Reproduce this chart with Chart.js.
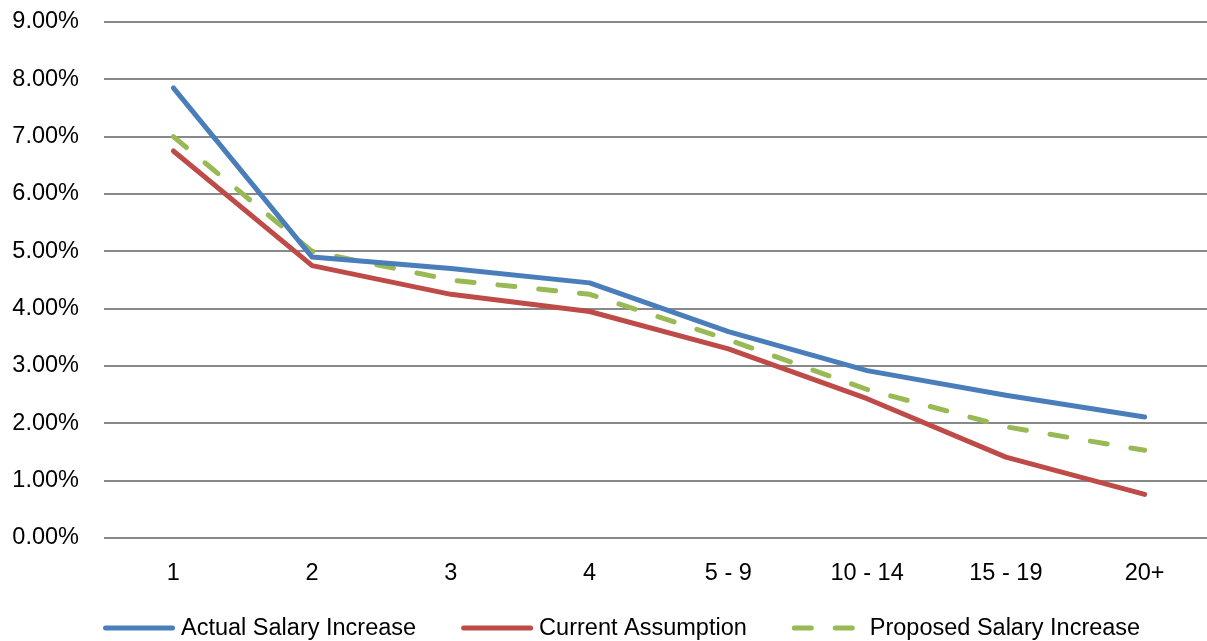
<!DOCTYPE html>
<html>
<head>
<meta charset="utf-8">
<script src="https://cdn.jsdelivr.net/npm/chart.js@4.4.1/dist/chart.umd.min.js"></script>
<style>
  html, body { margin: 0; padding: 0; background: #fff; overflow: hidden; }
  #wrap { position: relative; width: 1214px; height: 641px; }
</style>
</head>
<body>
<div id="wrap"><canvas id="chart"></canvas></div>
<script>
// Years of service bands
const categories = ['1', '2', '3', '4', '5 - 9', '10 - 14', '15 - 19', '20+'];

// Annual salary increase rates, in percent
const actualIncrease   = [7.85, 4.90, 4.70, 4.45, 3.60, 2.92, 2.49, 2.11];
const currentAssump    = [6.75, 4.75, 4.25, 3.95, 3.30, 2.43, 1.41, 0.76];
const proposedIncrease = [7.00, 5.00, 4.50, 4.25, 3.46, 2.59, 1.94, 1.53];

const seriesNames = ['Actual Salary Increase', 'Current Assumption', 'Proposed Salary Increase'];

// Value axis ticks
const yTicks = [0, 1, 2, 3, 4, 5, 6, 7, 8, 9];

const FONT = "'Liberation Sans', Arial, sans-serif";
const FONT_SIZE = 23.5;

// Legend row under the axis: line sample, then the series name
const legendRow = {
  id: 'legendRow',
  afterDraw(chart) {
    const ctx = chart.ctx;
    const y = 628;
    const sample = 72, gapText = 6, gapItem = 45;
    let x = 103;
    ctx.save();
    ctx.font = FONT_SIZE + 'px ' + FONT;
    ctx.textBaseline = 'middle';
    ctx.textAlign = 'left';
    chart.data.datasets.forEach((ds) => {
      ctx.strokeStyle = ds.borderColor;
      ctx.lineWidth = ds.borderWidth;
      ctx.lineCap = 'round';
      ctx.setLineDash(ds.borderDash || []);
      ctx.beginPath();
      ctx.moveTo(x + 2.5, y);
      ctx.lineTo(x + sample - 2.5, y);
      ctx.stroke();
      ctx.setLineDash([]);
      x += sample + gapText;
      ctx.fillStyle = '#000';
      ctx.fillText(ds.label, x, y + 1);
      x += ctx.measureText(ds.label).width + gapItem;
    });
    ctx.restore();
  }
};

new Chart(document.getElementById('chart'), {
  type: 'line',
  data: {
    labels: categories,
    datasets: [
      {
        label: seriesNames[0],
        data: actualIncrease,
        borderColor: '#4a7ebb',
        backgroundColor: '#4a7ebb',
        borderWidth: 5,
        borderCapStyle: 'round',
        borderJoinStyle: 'round',
        pointRadius: 0,
        tension: 0
      },
      {
        label: seriesNames[1],
        data: currentAssump,
        borderColor: '#be4b48',
        backgroundColor: '#be4b48',
        borderWidth: 5,
        borderCapStyle: 'round',
        borderJoinStyle: 'round',
        pointRadius: 0,
        tension: 0
      },
      {
        label: seriesNames[2],
        data: proposedIncrease,
        borderColor: '#98b954',
        backgroundColor: '#98b954',
        borderWidth: 5,
        borderDash: [17, 24],
        borderCapStyle: 'round',
        borderJoinStyle: 'round',
        pointRadius: 0,
        tension: 0
      }
    ]
  },
  plugins: [legendRow],
  options: {
    responsive: true,
    maintainAspectRatio: false,
    animation: false,
    layout: { padding: { left: 0, top: 22, right: 0, bottom: 0 } },
    plugins: {
      tooltip: { enabled: false },
      legend: { display: false }
    },
    scales: {
      x: {
        offset: true,
        grid: { display: false, drawTicks: false },
        border: { display: false },
        afterFit: (axis) => { axis.height = 103; },
        ticks: {
          padding: 21,
          color: '#000',
          font: { family: FONT, size: FONT_SIZE },
          maxRotation: 0
        }
      },
      y: {
        min: yTicks[0],
        max: yTicks[yTicks.length - 1],
        afterBuildTicks: (axis) => { axis.ticks = yTicks.map(v => ({ value: v })); },
        afterFit: (axis) => {
          axis.width = 104;
          axis.paddingTop = 0;
          axis.paddingBottom = 0;
        },
        grid: { color: '#898989', lineWidth: 2, drawTicks: false },
        border: { display: false },
        ticks: {
          padding: 25,
          color: '#000',
          font: { family: FONT, size: FONT_SIZE },
          callback: (v) => v.toFixed(2) + '%'
        }
      }
    }
  }
});
</script>
</body>
</html>
